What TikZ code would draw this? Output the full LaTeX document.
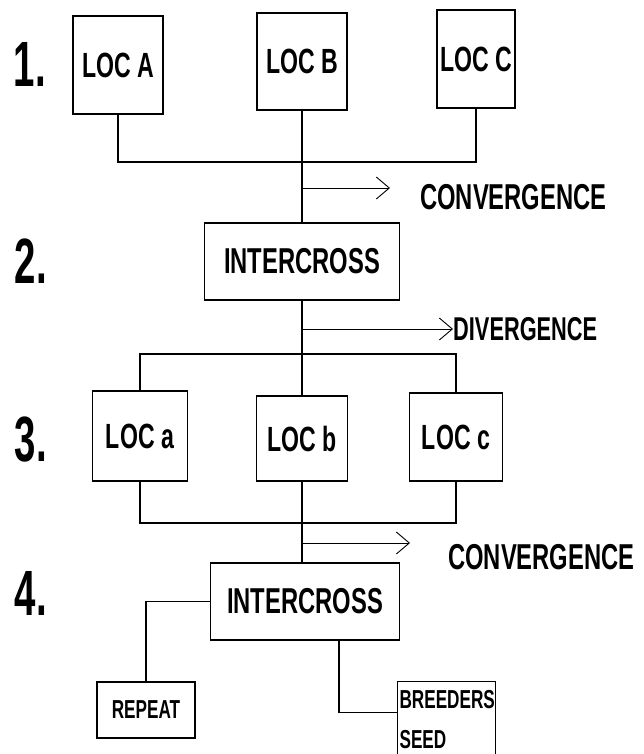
\documentclass[tikz,border=0pt]{standalone}
\usepackage{fontspec}
\setmainfont{Liberation Sans}[FakeStretch=0.66]
\newfontfamily\numfont{Liberation Sans}[FakeStretch=0.6]
\usetikzlibrary{arrows.meta, positioning, calc}
\tikzset{
  locbox/.style={
    rectangle, draw, line width=1.1pt, inner sep=0pt,
    align=center, font=\bfseries\fontsize{35}{35}\selectfont},
  crossbox/.style={
    rectangle, draw, line width=1.1pt, inner sep=0pt,
    minimum width=195pt, minimum height=77pt,
    align=center, font=\bfseries\fontsize{36}{36}\selectfont},
  endbox/.style={
    rectangle, draw, line width=1.1pt, inner sep=0pt,
    font=\bfseries\fontsize{26}{40}\selectfont},
  stagelabel/.style={font=\numfont\bfseries\fontsize{64}{64}\selectfont},
  flowlabel/.style={anchor=west, inner sep=0pt,
    font=\bfseries\fontsize{36}{36}\selectfont},
  link/.style={line width=1.1pt},
  arr/.style={-{Straight Barb[length=13pt,width=22pt,line width=0.9pt]}, line width=0.9pt},
}

\begin{document}
\begin{tikzpicture}[x=1pt, y=1pt]
  \useasboundingbox (0,0) rectangle (643,-754);
  % stage numbers
  \node[stagelabel] (s1) at (30,-64) {1.};
  \node[stagelabel] (s2) at (31,-261) {2.};
  \node[stagelabel] (s3) at (31,-440) {3.};
  \node[stagelabel] (s4) at (31,-593) {4.};

  % stage 1
  \node[locbox, minimum width=90pt, minimum height=98pt] (locA) at (118,-65) {LOC A};
  \node[locbox, minimum width=90pt, minimum height=97pt] (locB) at (302,-61.5) {LOC B};
  \node[locbox, minimum width=78pt, minimum height=98pt] (locC) at (476,-59) {LOC C};
  \coordinate (join1) at (302,-162);
  \draw[link] (locA.south) |- (join1) -| (locC.south);
  \draw[link] (locB.south) -- (join1);

  % stage 2
  \node[crossbox] (cross1) at (302,-261.5) {INTERCROSS};
  \draw[link] (join1) -- (cross1.north);
  \coordinate (conv1) at (302,-188);
  \coordinate (conv1end) at (390,-188);
  \draw[arr] (conv1) -- (conv1end);
  \node[flowlabel] (convtxt1) at (420,-197) {CONVERGENCE};
  \node[flowlabel, font=\bfseries\fontsize{33}{33}\selectfont] (divtxt) at (453,-329) {DIVERGENCE};
  \coordinate (div) at (302,-329);
  \draw[arr] (div) -- (divtxt.west);

  % stage 3
  \node[locbox, minimum width=95pt, minimum height=90pt] (loca) at (140,-436) {LOC a};
  \node[locbox, minimum width=91pt, minimum height=85pt] (locb) at (302,-438.5) {LOC b};
  \node[locbox, minimum width=93pt, minimum height=88pt] (locc) at (456,-437) {LOC c};
  \coordinate (join2) at (302,-354);
  \draw[link] (cross1.south) -- (locb.north);
  \draw[link] (loca.north) |- (join2) -| (locc.north);
  \coordinate (join3) at (302,-523);
  \draw[link] (loca.south) |- (join3) -| (locc.south);
  \draw[link] (locb.south) -- (join3);

  % stage 4
  \node[crossbox, minimum width=189pt] (cross2) at (305,-601.5) {INTERCROSS};
  \draw[link] (join3) -- (join3 |- cross2.north);
  \coordinate (conv2) at (302,-543);
  \coordinate (conv2end) at (410,-543);
  \draw[arr] (conv2) -- (conv2end);
  \node[flowlabel] (convtxt2) at (448,-557) {CONVERGENCE};

  \node[endbox, minimum width=98pt, minimum height=56pt] (repeat) at (146,-710) {REPEAT};
  \node[endbox, anchor=north west, text width=94pt, inner xsep=2pt,
        minimum height=76pt, align=left] (seed) at (397,-681) {BREEDERS\\SEED};
  \draw[link] (cross2.west) -| (repeat.north);
  \draw[link] ([xshift=34pt]cross2.south) |- ([yshift=7pt]seed.west);
\end{tikzpicture}
\end{document}
